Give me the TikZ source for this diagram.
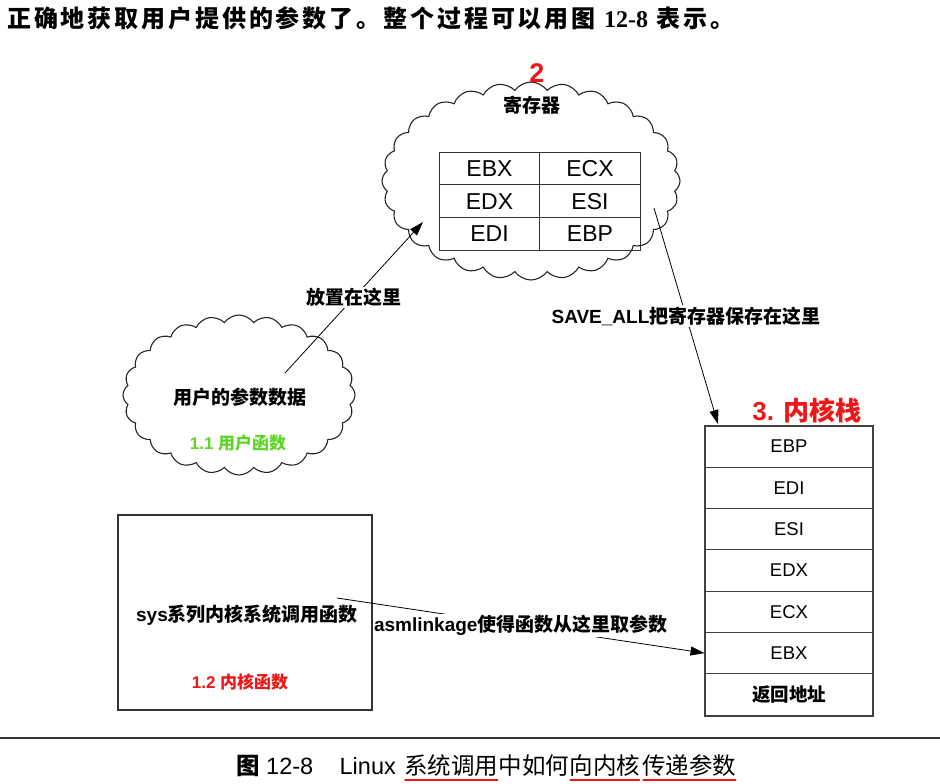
\documentclass[tikz,border=0pt]{standalone}
\usepackage{fontspec}
\setmainfont{Liberation Sans}
\newfontfamily\cjk{Noto Sans CJK SC}
\newfontfamily\introserif{Liberation Serif}
\usetikzlibrary{shapes.symbols,arrows.meta,positioning}
\definecolor{hired}{RGB}{238,22,22}
\definecolor{usergreen}{RGB}{96,214,36}
\newcommand\zhb[1]{{\cjk\bfseries #1}}
\begin{document}
\begin{tikzpicture}[x=1pt,y=-1pt,>={Triangle[length=14pt,width=9pt]},
  puff/.style={cloud,cloud puffs=28,cloud puff arc=110,cloud ignores aspect,draw=black!85,line width=1.1pt,inner sep=0pt},
  regcell/.style={draw=black!80,line width=0.9pt,minimum width=100.5pt,minimum height=32.7pt,inner sep=0pt,font=\fontsize{23}{26}\selectfont},
  stackcell/.style={draw=black!75,line width=0.9pt,minimum width=168pt,minimum height=41.3pt,inner sep=0pt,font=\fontsize{18.5}{22}\selectfont},
  lbl/.style={font=\fontsize{19}{23}\selectfont\bfseries},
  onlink/.style={fill=white,inner sep=1.5pt},
  capt/.style={font=\fontsize{23.5}{27}\selectfont,inner sep=0pt}]
\useasboundingbox (0,0) rectangle (940,784);
\node[anchor=base west,inner sep=0pt,font=\fontsize{24}{28}\selectfont\cjk\bfseries\addfontfeatures{LetterSpace=12}] (intro) at (7,28) {正确地获取用户提供的参数了。整个过程可以用图 {\introserif\bfseries 12-8} 表示。};

\node[puff,minimum width=298pt,minimum height=198pt] (regcloud) at (531,181) {};
\node[puff,cloud puffs=24,minimum width=232pt,minimum height=160pt] (usercloud) at (239,395) {};
\node[font=\fontsize{27}{30}\selectfont\bfseries,text=hired] (regnum) at (537,73) {2};
\node[lbl] (regtitle) at (532,105) {\zhb{寄存器}};

\node[regcell] (rebx) at (489.5,168.5) {EBX};
\node[regcell] (recx) at (590,168.5) {ECX};
\node[regcell] (redx) at (489.5,201.2) {EDX};
\node[regcell] (resi) at (590,201.2) {ESI};
\node[regcell] (redi) at (489.5,233.9) {EDI};
\node[regcell] (rebp) at (590,233.9) {EBP};

\node[lbl] (userdata) at (240,397) {\zhb{用户的参数数据}};
\node[font=\fontsize{17}{20}\selectfont\bfseries,text=usergreen] (userfn) at (238,443) {1.1 \zhb{用户函数}};

\node[draw=black!80,line width=1.1pt,minimum width=254pt,minimum height=195pt] (sysbox) at (245,612.5) {};
\node[lbl] (sysname) at (247,615) {sys\zhb{系列内核系统调用函数}};
\node[font=\fontsize{17}{20}\selectfont\bfseries,text=hired] (kernfn) at (240,682) {1.2 \zhb{内核函数}};

\node[stackcell] (sebp) at (789,446.6) {EBP};
\node[stackcell] (sedi) at (789,487.9) {EDI};
\node[stackcell] (sesi) at (789,529.2) {ESI};
\node[stackcell] (sedx) at (789,570.5) {EDX};
\node[stackcell] (secx) at (789,611.8) {ECX};
\node[stackcell] (sebx) at (789,653.1) {EBX};
\node[stackcell] (sret) at (789,694.4) {\zhb{返回地址}};
\draw[line width=2pt,black!75] (sebp.north west) rectangle (sret.south east);
\node[font=\fontsize{26}{30}\selectfont\bfseries,text=hired] (stacktitle) at (807,410) {3. \zhb{内核栈}};

\coordinate (usersrc) at (285,373);
\coordinate (regdst) at (423,222);
\coordinate (regsrc) at (654,208);
\coordinate (stackdst) at (718,424);
\coordinate (syssrc) at (337,598);
\draw[->,line width=0.8pt] (usersrc) -- node[lbl,onlink] (putlbl) {\zhb{放置在这里}} (regdst);
\draw[->,line width=0.8pt] (regsrc) -- node[lbl,onlink] (savelbl) {SAVE\_ALL\zhb{把寄存器保存在这里}} (stackdst);
\draw[->,line width=0.8pt] (syssrc) -- node[lbl,onlink] (asmlbl) {asmlinkage\zhb{使得函数从这里取参数}} (sebx.west);

\draw[line width=1.8pt,black!80] (0,738) -- (940,738);
\node[capt,anchor=base west] (capfig) at (236,774) {\zhb{图} 12-8};
\node[capt,right=26pt of capfig.base east,anchor=base west] (caplinux) {Linux};
\node[capt,right=8pt of caplinux.base east,anchor=base west] (capa) {{\cjk 系统调用}};
\node[capt,right=0pt of capa.base east,anchor=base west] (capb) {{\cjk 中如何}};
\node[capt,right=0pt of capb.base east,anchor=base west] (capc) {{\cjk 向内核}};
\node[capt,right=2pt of capc.base east,anchor=base west] (capd) {{\cjk 传递参数}};
\draw[hired,line width=2pt,line cap=round] ([yshift=-6pt,xshift=1pt]capa.base west) -- ([yshift=-6pt,xshift=-1pt]capa.base east);
\draw[hired,line width=2pt,line cap=round] ([yshift=-6pt,xshift=1pt]capc.base west) -- ([yshift=-6pt,xshift=-1pt]capc.base east);
\draw[hired,line width=2pt,line cap=round] ([yshift=-6pt,xshift=1pt]capd.base west) -- ([yshift=-6pt,xshift=-1pt]capd.base east);
\end{tikzpicture}
\end{document}
